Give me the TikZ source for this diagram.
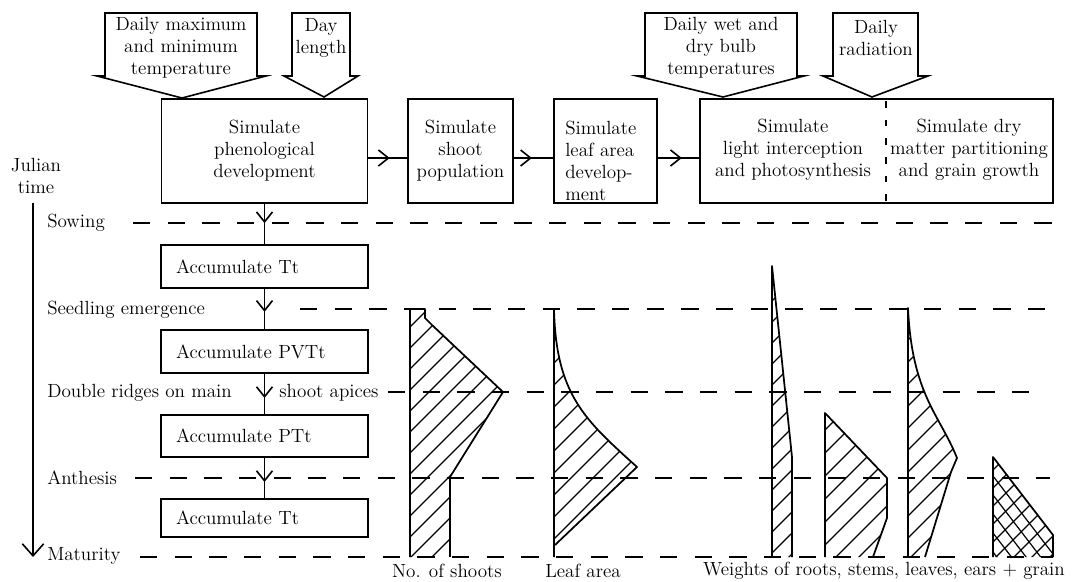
\documentclass[tikz,border=0pt]{standalone}
\usetikzlibrary{arrows.meta,decorations.markings}
\tikzset{
 every node/.style={font=\fontsize{14.3}{16.5}\selectfont, inner sep=0pt},
 box/.style={draw, line width=1.2pt},
 conn/.style={line width=1.2pt},
 dashline/.style={line width=1.2pt, dash pattern=on 13pt off 13pt},
 vdash/.style={line width=1.2pt, dash pattern=on 5pt off 9pt},
 outline/.style={line width=1.3pt, line join=round},
 hatch/.style={line width=0.9pt},
 inarrow/.style={draw, line width=1.2pt, line join=miter},
 midarr/.style={decoration={markings, mark=at position #1 with {\arrow{Straight Barb[length=7.5pt,width=12pt]}}}, postaction={decorate}},
}
\begin{document}
\begin{tikzpicture}[x=0.75pt,y=-0.75pt]
\useasboundingbox (0,0) rectangle (1079,582);

% input block arrows
\draw[inarrow] (105,13) -- (257,13) -- (257,76) -- (266,76) -- (182,98) -- (97,76) -- (105,76) -- cycle;
\node[align=center] (in1) at (181,48) {Daily maximum\\and minimum\\temperature};
\draw[inarrow] (292,13) -- (350,13) -- (350,76) -- (358,76) -- (324,97) -- (284,76) -- (292,76) -- cycle;
\node[align=center] (in2) at (321,38) {Day\\length};
\draw[inarrow] (645,13) -- (797,13) -- (797,76) -- (804,76) -- (723,97) -- (637,76) -- (645,76) -- cycle;
\node[align=center] (in3) at (721,48) {Daily wet and\\dry bulb\\temperatures};
\draw[inarrow] (833,13) -- (918,13) -- (918,76) -- (928,76) -- (872,97) -- (823,76) -- (833,76) -- cycle;
\node[align=center] (in4) at (876,38) {Daily\\radiation};

% top boxes
\node[box, minimum width=154.5pt, minimum height=78pt, align=center] (b1) at (264.5,151) {Simulate\\phenological\\development};
\node[box, minimum width=78.75pt, minimum height=78pt, align=center] (b2) at (460.5,151) {Simulate\\shoot\\population};
\node[box, minimum width=77.25pt, minimum height=78pt] (b3) at (605.5,151) {};
\node[align=left, anchor=west] (b3t) at (565,160.5) {Simulate\\leaf area\\develop-\\ment};
\node[box, minimum width=264.75pt, minimum height=78pt] (b4) at (876.5,151) {};
\draw[vdash] (886,101) -- (886,201);
\node[align=center] (b4l) at (793,150) {Simulate\\light interception\\and photosynthesis};
\node[align=center] (b4r) at (969,150) {Simulate dry\\matter partitioning\\and grain growth};

\draw[conn, midarr=0.55] ([yshift=-5.25pt]b1.east) -- ([yshift=-5.25pt]b2.west);
\draw[conn, midarr=0.46] ([yshift=-5.25pt]b2.east) -- ([yshift=-5.25pt]b3.west);
\draw[conn, midarr=0.58] ([yshift=-5.25pt]b3.east) -- ([yshift=-5.25pt]b4.west);

% time axis
\node (julian) at (36,165) {Julian};
\node (time) at (36,187) {time};
\coordinate (tTop) at (33,203);
\coordinate (tBot) at (33,557);
\draw[conn, -{Straight Barb[length=9pt,width=16pt]}] (tTop) -- (tBot);

\node[anchor=west] (sow) at (47,223) {Sowing};
\node[anchor=west] (seed) at (47,310) {Seedling emergence};
\node[anchor=west] (dr1) at (47,393) {Double ridges on main};
\node[anchor=west] (dr2) at (279,393) {shoot apices};
\node[anchor=west] (anth) at (47,478) {Anthesis};
\node[anchor=west] (mat) at (47,556) {Maturity};

\draw[dashline] (133,223) -- (1062,223);
\draw[dashline] (300,309) -- (1045,309);
\draw[dashline] (388,392) -- (1040,392);
\draw[dashline] (135,478) -- (1050,478);
\draw[dashline] (140,557) -- (1053,557);

% accumulate boxes
\node[box, minimum width=155.25pt, minimum height=32.25pt, text width=132.75pt, align=left] (a1) at (264.5,266.5) {Accumulate Tt};
\node[box, minimum width=155.25pt, minimum height=32.25pt, text width=132.75pt, align=left] (a2) at (264.5,351.5) {Accumulate PVTt};
\node[box, minimum width=155.25pt, minimum height=31.5pt, text width=132.75pt, align=left] (a3) at (264.5,436) {Accumulate PTt};
\node[box, minimum width=155.25pt, minimum height=28.5pt, text width=132.75pt, align=left] (a4) at (264.5,518) {Accumulate Tt};

\draw[conn, midarr=0.48] (b1.south) -- (a1.north);
\draw[conn, midarr=0.57] (a1.south) -- (a2.north);
\draw[conn, midarr=0.6] (a2.south) -- (a3.north);
\draw[conn, midarr=0.6] (a3.south) -- (a4.north);

% No. of shoots
\begin{scope}
 \clip (410,557) -- (410,309) -- (425,309) -- (425,318) -- (432,325) -- (503,392) -- (450,477) -- (450,557) -- cycle;
 \foreach \k in {0,...,17} \draw[hatch] (410,{306+\k*21}) -- ++(150,-150);
\end{scope}
\draw[outline] (410,557) -- (410,309) -- (425,309) -- (425,318) -- (432,325) -- (503,392) -- (450,477);
\draw[line width=2pt] (450,477) -- (450,557);

% Leaf area
\begin{scope}
 \clip (554,557) -- (554,309) .. controls (556,395) and (585,420) .. (637,467) -- (555,545) -- cycle;
 \foreach \k in {0,...,13} \draw[hatch] (554,{319+\k*22}) -- ++(150,-150);
\end{scope}
\draw[outline] (554,557) -- (554,309) .. controls (556,395) and (585,420) .. (637,467) -- (555,545);

% roots
\begin{scope}
 \clip (772,557) -- (772,266) -- (792,457) -- (792,557) -- cycle;
 \foreach \k in {0,...,14} \draw[hatch] (772,{280+\k*21}) -- ++(40,-40);
\end{scope}
\draw[outline] (772,557) -- (772,266) -- (792,457) -- (792,557);

% stems
\begin{scope}
 \clip (825,557) -- (825,413) -- (887,478) -- (887,518) -- (873,557) -- cycle;
 \foreach \k in {0,...,10} \draw[hatch] (825,{407+\k*23}) -- ++(100,-100);
\end{scope}
\draw[outline] (825,557) -- (825,413) -- (887,478) -- (887,518) -- (873,557);

% leaves
\begin{scope}
 \clip (908,557) -- (908,308) .. controls (912,395) and (940,415) .. (957,458) -- (951,472) -- (925,557) -- cycle;
 \foreach \k in {0,...,12} \draw[hatch] (908,{318+\k*22}) -- ++(80,-80);
\end{scope}
\draw[outline] (908,557) -- (908,308) .. controls (912,395) and (940,415) .. (957,458) -- (951,472) -- (925,557);

% ears + grain
\begin{scope}
 \clip (993,557) -- (993,457) -- (1053,535) -- (1053,557) -- cycle;
 \foreach \k in {0,...,10} \draw[hatch] (993,{470+\k*18}) -- ++(80,-80);
 \foreach \k in {1,...,5} \draw[hatch] (993,{457+\k*19}) -- ++(70,91);
\end{scope}
\draw[outline] (993,557) -- (993,457) -- (1053,535) -- (1053,557);

% bottom labels
\node (lab1) at (447,571) {No. of shoots};
\node (lab2) at (583,571) {Leaf area};
\node (lab3) at (884,571) {Weights of roots, stems, leaves, ears + grain};
\end{tikzpicture}
\end{document}
